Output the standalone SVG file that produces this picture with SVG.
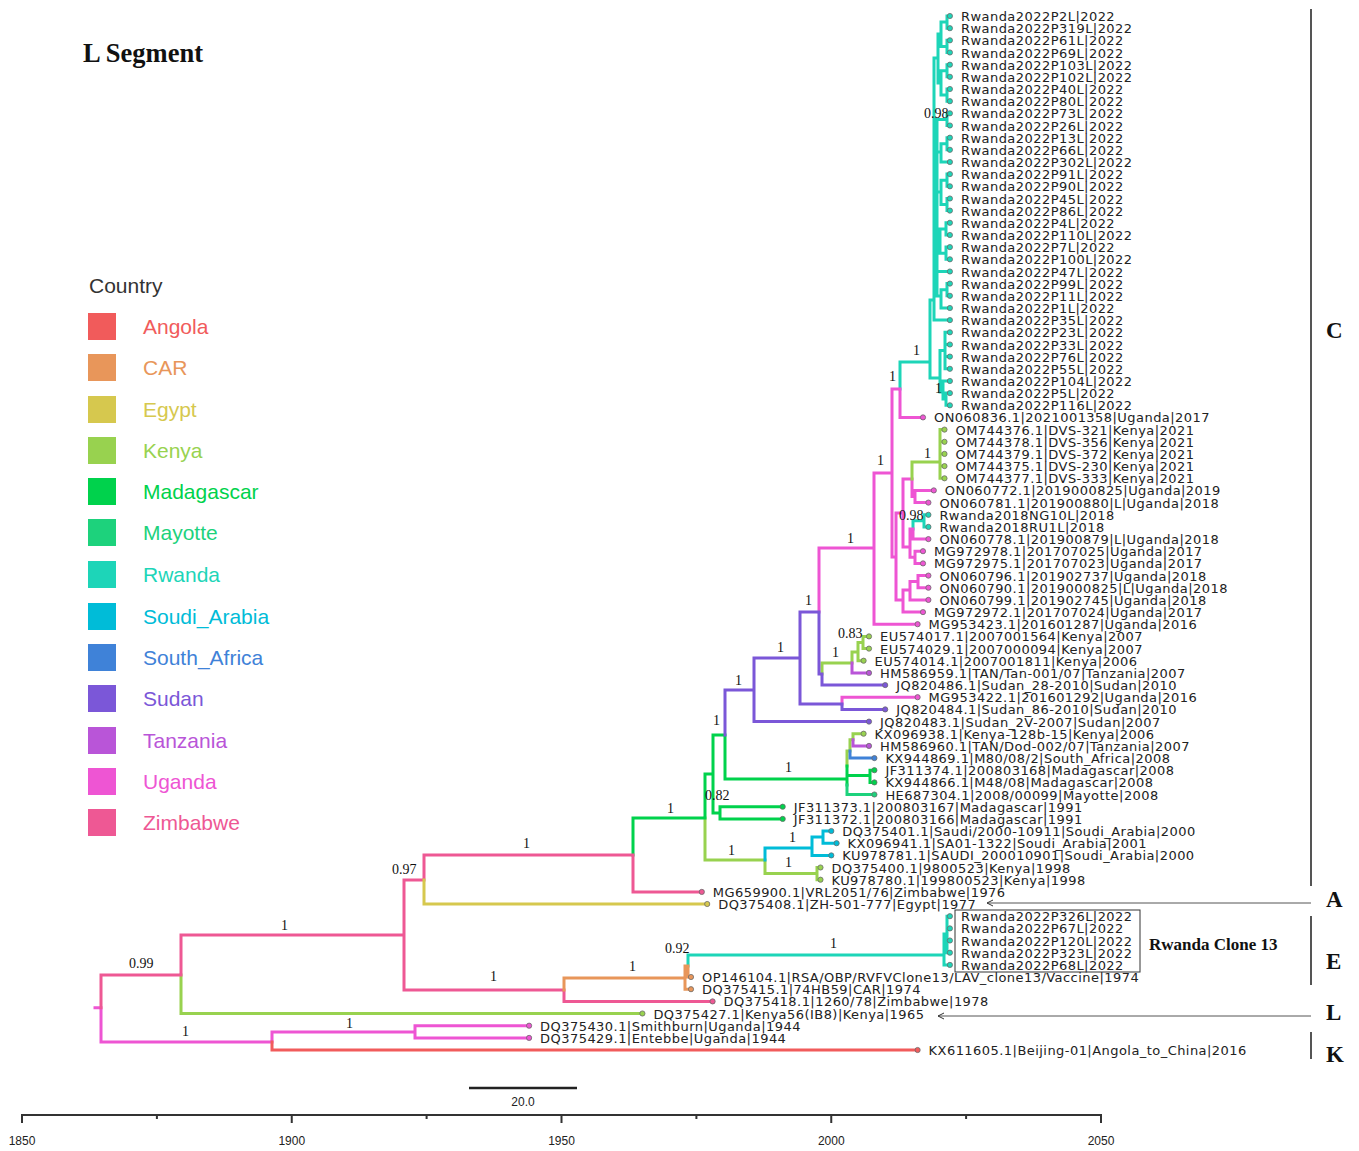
<svg xmlns="http://www.w3.org/2000/svg" width="1359" height="1151" viewBox="0 0 1359 1151">
<style>
.b{fill:none;stroke-width:3;stroke-linecap:square}
.an{stroke:#F15B5B}.car{stroke:#E8965A}.eg{stroke:#D6C84E}.ke{stroke:#98D24F}.md{stroke:#00D24C}.my{stroke:#1DD27C}.rw{stroke:#1DD5B8}.sa{stroke:#00BCD8}.zaf{stroke:#3F82D8}.sd{stroke:#7B57D8}.tz{stroke:#B955D8}.ug{stroke:#EE55D3}.zw{stroke:#EE5894}
.fan{fill:#F15B5B}.fcar{fill:#E8965A}.feg{fill:#D6C84E}.fke{fill:#98D24F}.fmd{fill:#00D24C}.fmy{fill:#1DD27C}.frw{fill:#1DD5B8}.fsa{fill:#00BCD8}.fzaf{fill:#3F82D8}.fsd{fill:#7B57D8}.ftz{fill:#B955D8}.fug{fill:#EE55D3}.fzw{fill:#EE5894}
circle{stroke:#6b6b6b;stroke-width:0.8}
.t{font-family:"DejaVu Sans",sans-serif;font-size:13px;letter-spacing:0.45px;fill:#222}
.s{font-family:"Liberation Serif",serif;font-size:14px;fill:#111}
.lg{font-family:"Liberation Sans",sans-serif;font-size:21px}
.cl{font-family:"Liberation Serif",serif;font-size:23px;font-weight:bold;fill:#111}
.ax{font-family:"Liberation Sans",sans-serif;font-size:12px;fill:#222}
.ln{stroke:#555;fill:none}
</style>
<defs>
<marker id="ah" markerWidth="8" markerHeight="8" refX="7" refY="4" orient="auto" markerUnits="userSpaceOnUse">
<path d="M1,1 L7,4 L1,7" fill="none" stroke="#333" stroke-width="1"/>
</marker>
</defs>
<rect width="1359" height="1151" fill="#fff"/>
<text x="83" y="62" font-family="Liberation Serif,serif" font-size="26.5" font-weight="bold" fill="#111">L Segment</text>

<g id="legend">
<text x="89" y="293" class="lg" fill="#333" font-size="20">Country</text>
<rect x="88" y="313" width="28" height="27" class="fan"/><text x="143" y="334" class="lg" fill="#F15B5B">Angola</text>
<rect x="88" y="354" width="28" height="27" class="fcar"/><text x="143" y="375" class="lg" fill="#E8965A">CAR</text>
<rect x="88" y="396" width="28" height="27" class="feg"/><text x="143" y="417" class="lg" fill="#D6C84E">Egypt</text>
<rect x="88" y="437" width="28" height="27" class="fke"/><text x="143" y="458" class="lg" fill="#98D24F">Kenya</text>
<rect x="88" y="478" width="28" height="27" class="fmd"/><text x="143" y="499" class="lg" fill="#00D24C">Madagascar</text>
<rect x="88" y="519" width="28" height="27" class="fmy"/><text x="143" y="540" class="lg" fill="#1DD27C">Mayotte</text>
<rect x="88" y="561" width="28" height="27" class="frw"/><text x="143" y="582" class="lg" fill="#1DD5B8">Rwanda</text>
<rect x="88" y="603" width="28" height="27" class="fsa"/><text x="143" y="624" class="lg" fill="#00BCD8">Soudi_Arabia</text>
<rect x="88" y="644" width="28" height="27" class="fzaf"/><text x="143" y="665" class="lg" fill="#3F82D8">South_Africa</text>
<rect x="88" y="685" width="28" height="27" class="fsd"/><text x="143" y="706" class="lg" fill="#7B57D8">Sudan</text>
<rect x="88" y="727" width="28" height="27" class="ftz"/><text x="143" y="748" class="lg" fill="#B955D8">Tanzania</text>
<rect x="88" y="768" width="28" height="27" class="fug"/><text x="143" y="789" class="lg" fill="#EE55D3">Uganda</text>
<rect x="88" y="809" width="28" height="27" class="fzw"/><text x="143" y="830" class="lg" fill="#EE5894">Zimbabwe</text>
</g>

<g id="connectors">
<path class="b rw" d="M900 362V389M900 362H930M930 300V378M930 300H934M934 58V320.1M934 320.1H949.9
M934 58H938M938 34V83M938 34H941M941 22.1V46.4M941 22.1H947M947 16V28.2M947 16H949.9M947 28.2H949.9M941 46.4H947M947 40.3V52.5M947 40.3H949.9M947 52.5H949.9
M938 83H941M941 70.8V95.1M941 70.8H947M947 64.7V76.8M947 64.7H949.9M947 76.8H949.9M941 95.1H947M947 89V101.2M947 89H949.9M947 101.2H949.9
M934 200H937M937 119.4V296M937 119.4H947M947 113.3V125.5M947 113.3H949.9M947 125.5H949.9
M937 152H941M941 143.8V162M941 143.8H947M947 137.7V149.8M947 137.7H949.9M947 149.8H949.9M941 162H949.9
M937 192H941M941 180.2V204.6M941 180.2H947M947 174.1V186.3M947 174.1H949.9M947 186.3H949.9M941 204.6H947M947 198.5V210.6M947 198.5H949.9M947 210.6H949.9
M937 241H940M940 228.9V253.2M940 228.9H946M946 222.8V235M946 222.8H949.9M946 235H949.9M940 253.2H946M946 247.1V259.3M946 247.1H949.9M946 259.3H949.9
M937 271.5H949.9M937 296H941M941 289.7V308M941 289.7H947M947 283.6V295.8M947 283.6H949.9M947 295.8H949.9M941 308H949.9
M930 378H940M940 350.5V392M940 350.5H945M945 332.3V368.8M945 332.3H949.9M945 344.5H949.9M945 356.6H949.9M945 368.8H949.9
M940 392H943M943 381V399M943 381H949.9M943 399H946M946 393.1V405.3M946 393.1H949.9M946 405.3H949.9
M913 520.8V529M913 520.8H924M924 514.8V526.9M924 514.8H928.4M924 526.9H928.4
M688 955V966M688 955H944M944 934V964.9M944 934H947M947 916.2V952.7M947 916.2H949.9M947 928.4H949.9M947 940.5H949.9M947 952.7H949.9M944 964.9H949.9"/>
<path class="b ug" d="M95 1007.7H101M101 1007.7V1042M101 1042H272M272 1032V1042M272 1032H415M415 1025.7V1037.9M415 1025.7H529.1M415 1037.9H529.1
M819 548V612M819 548H874M874 473V624.2M874 624.2H917.6M874 473H892M892 389V557M892 389H900M900 389V417.4M900 417.4H923
M892 557H896M896 513V600M896 513H903M903 479V547M903 479H912M912 479V496.5M912 496.5H915M915 490.4V502.6M915 490.4H933.8M915 502.6H928.4
M903 547H910M910 529V557.3M910 529H913M913 529V539.1M913 539.1H928.4M910 557.3H915M915 551.2V563.4M915 551.2H923M915 563.4H923
M896 600H903M903 590V612.1M903 590H910M910 581.6V599.9M910 581.6H918M918 575.6V587.7M918 575.6H928.4M918 587.7H928.4M910 599.9H928.4M903 612.1H923
M842 697.2V704M842 697.2H917.6"/>
<path class="b ke" d="M181 975V1013.5M181 1013.5H642.4M705 818V860M705 860H765M765 860V873.6M765 873.6H817M817 867.5V879.7M817 867.5H820.5M817 879.7H820.5
M912 462V479M912 462H940M940 429.6V478.3M940 429.6H944.5M940 441.8H944.5M940 453.9H944.5M940 466.1H944.5M940 478.3H944.5
M822 663V674M822 663H852M852 652V663M852 652H858M858 642.5V660.7M858 642.5H863M863 636.4V648.6M863 636.4H869M863 648.6H869M858 660.7H863.6
M847 751V766M847 751H850M850 739.8V751M850 739.8H853M853 733.7V739.8M853 733.7H863.6"/>
<path class="b tz" d="M852 663V672.9M852 672.9H869M853 739.8V745.9M853 745.9H869"/>
<path class="b zaf" d="M850 751V758.1M850 758.1H874.4"/>
<path class="b md" d="M633 818V855M633 818H705M705 774V818M705 774H713M713 735V813M713 735H725M713 813H720M720 806.7V818.9M720 806.7H782.7M720 818.9H782.7
M725 735V779M725 779H847M847 766V785M847 775.5H870M870 770.2V782.4M870 770.2H874.4M870 782.4H874.4"/>
<path class="b my" d="M847 785V794.5M847 794.5H874.4"/>
<path class="b sd" d="M725 690V735M725 690H754M754 658V721.6M754 658H800M754 721.6H869M800 612V704M800 612H819M800 704H842M819 612V674M819 674H822M822 674V685.1M822 685.1H885.2M842 704V709.4M842 709.4H885.2"/>
<path class="b sa" d="M765 848V860M765 848H812M812 837V855.4M812 837H823M823 831V843.2M823 831H831.3M823 843.2H836.6M812 855.4H831.3"/>
<path class="b zw" d="M101 975V1007.7M101 975H181M181 935V975M181 935H404M404 880V990M404 880H424M404 990H564M424 855V880M424 855H633M633 855V891.9M633 891.9H701.8M564 990V1001.4M564 1001.4H712.6"/>
<path class="b eg" d="M424 880V904M424 904H707.2"/>
<path class="b car" d="M564 978V990M564 978H685M685 966V989.2M685 966H688M685 989.2H691M688 966V977M688 977H691"/>
<path class="b an" d="M272 1042V1050M272 1050H917.6"/>
</g>

<g id="support">
<text class="s" x="924" y="118">0.98</text>
<text class="s" x="913" y="355">1</text>
<text class="s" x="935" y="393">1</text>
<text class="s" x="889" y="381">1</text>
<text class="s" x="924" y="458">1</text>
<text class="s" x="899" y="520">0.98</text>
<text class="s" x="877" y="465">1</text>
<text class="s" x="847" y="543">1</text>
<text class="s" x="805" y="605">1</text>
<text class="s" x="838" y="638">0.83</text>
<text class="s" x="832" y="657">1</text>
<text class="s" x="777" y="652">1</text>
<text class="s" x="735" y="685">1</text>
<text class="s" x="713" y="725">1</text>
<text class="s" x="785" y="772">1</text>
<text class="s" x="705" y="800">0.82</text>
<text class="s" x="667" y="813">1</text>
<text class="s" x="789" y="842">1</text>
<text class="s" x="728" y="855">1</text>
<text class="s" x="785" y="867">1</text>
<text class="s" x="523" y="848">1</text>
<text class="s" x="392" y="874">0.97</text>
<text class="s" x="281" y="930">1</text>
<text class="s" x="665" y="953">0.92</text>
<text class="s" x="830" y="948">1</text>
<text class="s" x="629" y="971">1</text>
<text class="s" x="490" y="981">1</text>
<text class="s" x="129" y="968">0.99</text>
<text class="s" x="346" y="1028">1</text>
<text class="s" x="182" y="1036">1</text>
</g>

<g id="tips">
<g id="tip1"><circle cx="949.9" cy="16" r="2.6" class="frw"/><text class="t" x="961" y="21">Rwanda2022P2L|2022</text></g>
<g id="tip2"><circle cx="949.9" cy="28.2" r="2.6" class="frw"/><text class="t" x="961" y="33.2">Rwanda2022P319L|2022</text></g>
<g id="tip3"><circle cx="949.9" cy="40.3" r="2.6" class="frw"/><text class="t" x="961" y="45.3">Rwanda2022P61L|2022</text></g>
<g id="tip4"><circle cx="949.9" cy="52.5" r="2.6" class="frw"/><text class="t" x="961" y="57.5">Rwanda2022P69L|2022</text></g>
<g id="tip5"><circle cx="949.9" cy="64.7" r="2.6" class="frw"/><text class="t" x="961" y="69.7">Rwanda2022P103L|2022</text></g>
<g id="tip6"><circle cx="949.9" cy="76.8" r="2.6" class="frw"/><text class="t" x="961" y="81.8">Rwanda2022P102L|2022</text></g>
<g id="tip7"><circle cx="949.9" cy="89" r="2.6" class="frw"/><text class="t" x="961" y="94">Rwanda2022P40L|2022</text></g>
<g id="tip8"><circle cx="949.9" cy="101.2" r="2.6" class="frw"/><text class="t" x="961" y="106.2">Rwanda2022P80L|2022</text></g>
<g id="tip9"><circle cx="949.9" cy="113.3" r="2.6" class="frw"/><text class="t" x="961" y="118.3">Rwanda2022P73L|2022</text></g>
<g id="tip10"><circle cx="949.9" cy="125.5" r="2.6" class="frw"/><text class="t" x="961" y="130.5">Rwanda2022P26L|2022</text></g>
<g id="tip11"><circle cx="949.9" cy="137.7" r="2.6" class="frw"/><text class="t" x="961" y="142.7">Rwanda2022P13L|2022</text></g>
<g id="tip12"><circle cx="949.9" cy="149.8" r="2.6" class="frw"/><text class="t" x="961" y="154.8">Rwanda2022P66L|2022</text></g>
<g id="tip13"><circle cx="949.9" cy="162" r="2.6" class="frw"/><text class="t" x="961" y="167">Rwanda2022P302L|2022</text></g>
<g id="tip14"><circle cx="949.9" cy="174.1" r="2.6" class="frw"/><text class="t" x="961" y="179.1">Rwanda2022P91L|2022</text></g>
<g id="tip15"><circle cx="949.9" cy="186.3" r="2.6" class="frw"/><text class="t" x="961" y="191.3">Rwanda2022P90L|2022</text></g>
<g id="tip16"><circle cx="949.9" cy="198.5" r="2.6" class="frw"/><text class="t" x="961" y="203.5">Rwanda2022P45L|2022</text></g>
<g id="tip17"><circle cx="949.9" cy="210.6" r="2.6" class="frw"/><text class="t" x="961" y="215.6">Rwanda2022P86L|2022</text></g>
<g id="tip18"><circle cx="949.9" cy="222.8" r="2.6" class="frw"/><text class="t" x="961" y="227.8">Rwanda2022P4L|2022</text></g>
<g id="tip19"><circle cx="949.9" cy="235" r="2.6" class="frw"/><text class="t" x="961" y="240">Rwanda2022P110L|2022</text></g>
<g id="tip20"><circle cx="949.9" cy="247.1" r="2.6" class="frw"/><text class="t" x="961" y="252.1">Rwanda2022P7L|2022</text></g>
<g id="tip21"><circle cx="949.9" cy="259.3" r="2.6" class="frw"/><text class="t" x="961" y="264.3">Rwanda2022P100L|2022</text></g>
<g id="tip22"><circle cx="949.9" cy="271.5" r="2.6" class="frw"/><text class="t" x="961" y="276.5">Rwanda2022P47L|2022</text></g>
<g id="tip23"><circle cx="949.9" cy="283.6" r="2.6" class="frw"/><text class="t" x="961" y="288.6">Rwanda2022P99L|2022</text></g>
<g id="tip24"><circle cx="949.9" cy="295.8" r="2.6" class="frw"/><text class="t" x="961" y="300.8">Rwanda2022P11L|2022</text></g>
<g id="tip25"><circle cx="949.9" cy="308" r="2.6" class="frw"/><text class="t" x="961" y="313">Rwanda2022P1L|2022</text></g>
<g id="tip26"><circle cx="949.9" cy="320.1" r="2.6" class="frw"/><text class="t" x="961" y="325.1">Rwanda2022P35L|2022</text></g>
<g id="tip27"><circle cx="949.9" cy="332.3" r="2.6" class="frw"/><text class="t" x="961" y="337.3">Rwanda2022P23L|2022</text></g>
<g id="tip28"><circle cx="949.9" cy="344.5" r="2.6" class="frw"/><text class="t" x="961" y="349.5">Rwanda2022P33L|2022</text></g>
<g id="tip29"><circle cx="949.9" cy="356.6" r="2.6" class="frw"/><text class="t" x="961" y="361.6">Rwanda2022P76L|2022</text></g>
<g id="tip30"><circle cx="949.9" cy="368.8" r="2.6" class="frw"/><text class="t" x="961" y="373.8">Rwanda2022P55L|2022</text></g>
<g id="tip31"><circle cx="949.9" cy="381" r="2.6" class="frw"/><text class="t" x="961" y="386">Rwanda2022P104L|2022</text></g>
<g id="tip32"><circle cx="949.9" cy="393.1" r="2.6" class="frw"/><text class="t" x="961" y="398.1">Rwanda2022P5L|2022</text></g>
<g id="tip33"><circle cx="949.9" cy="405.3" r="2.6" class="frw"/><text class="t" x="961" y="410.3">Rwanda2022P116L|2022</text></g>
<g id="tip34"><circle cx="923" cy="417.4" r="2.6" class="fug"/><text class="t" x="934" y="422.4">ON060836.1|2021001358|Uganda|2017</text></g>
<g id="tip35"><circle cx="944.5" cy="429.6" r="2.6" class="fke"/><text class="t" x="955.5" y="434.6">OM744376.1|DVS-321|Kenya|2021</text></g>
<g id="tip36"><circle cx="944.5" cy="441.8" r="2.6" class="fke"/><text class="t" x="955.5" y="446.8">OM744378.1|DVS-356|Kenya|2021</text></g>
<g id="tip37"><circle cx="944.5" cy="453.9" r="2.6" class="fke"/><text class="t" x="955.5" y="458.9">OM744379.1|DVS-372|Kenya|2021</text></g>
<g id="tip38"><circle cx="944.5" cy="466.1" r="2.6" class="fke"/><text class="t" x="955.5" y="471.1">OM744375.1|DVS-230|Kenya|2021</text></g>
<g id="tip39"><circle cx="944.5" cy="478.3" r="2.6" class="fke"/><text class="t" x="955.5" y="483.3">OM744377.1|DVS-333|Kenya|2021</text></g>
<g id="tip40"><circle cx="933.8" cy="490.4" r="2.6" class="fug"/><text class="t" x="944.8" y="495.4">ON060772.1|2019000825|Uganda|2019</text></g>
<g id="tip41"><circle cx="928.4" cy="502.6" r="2.6" class="fug"/><text class="t" x="939.4" y="507.6">ON060781.1|201900880|L|Uganda|2018</text></g>
<g id="tip42"><circle cx="928.4" cy="514.8" r="2.6" class="frw"/><text class="t" x="939.4" y="519.8">Rwanda2018NG10L|2018</text></g>
<g id="tip43"><circle cx="928.4" cy="526.9" r="2.6" class="frw"/><text class="t" x="939.4" y="531.9">Rwanda2018RU1L|2018</text></g>
<g id="tip44"><circle cx="928.4" cy="539.1" r="2.6" class="fug"/><text class="t" x="939.4" y="544.1">ON060778.1|201900879|L|Uganda|2018</text></g>
<g id="tip45"><circle cx="923" cy="551.2" r="2.6" class="fug"/><text class="t" x="934" y="556.2">MG972978.1|201707025|Uganda|2017</text></g>
<g id="tip46"><circle cx="923" cy="563.4" r="2.6" class="fug"/><text class="t" x="934" y="568.4">MG972975.1|201707023|Uganda|2017</text></g>
<g id="tip47"><circle cx="928.4" cy="575.6" r="2.6" class="fug"/><text class="t" x="939.4" y="580.6">ON060796.1|201902737|Uganda|2018</text></g>
<g id="tip48"><circle cx="928.4" cy="587.7" r="2.6" class="fug"/><text class="t" x="939.4" y="592.7">ON060790.1|2019000825|L|Uganda|2018</text></g>
<g id="tip49"><circle cx="928.4" cy="599.9" r="2.6" class="fug"/><text class="t" x="939.4" y="604.9">ON060799.1|201902745|Uganda|2018</text></g>
<g id="tip50"><circle cx="923" cy="612.1" r="2.6" class="fug"/><text class="t" x="934" y="617.1">MG972972.1|201707024|Uganda|2017</text></g>
<g id="tip51"><circle cx="917.6" cy="624.2" r="2.6" class="fug"/><text class="t" x="928.6" y="629.2">MG953423.1|201601287|Uganda|2016</text></g>
<g id="tip52"><circle cx="869" cy="636.4" r="2.6" class="fke"/><text class="t" x="880" y="641.4">EU574017.1|2007001564|Kenya|2007</text></g>
<g id="tip53"><circle cx="869" cy="648.6" r="2.6" class="fke"/><text class="t" x="880" y="653.6">EU574029.1|2007000094|Kenya|2007</text></g>
<g id="tip54"><circle cx="863.6" cy="660.7" r="2.6" class="fke"/><text class="t" x="874.6" y="665.7">EU574014.1|2007001811|Kenya|2006</text></g>
<g id="tip55"><circle cx="869" cy="672.9" r="2.6" class="ftz"/><text class="t" x="880" y="677.9">HM586959.1|TAN/Tan-001/07|Tanzania|2007</text></g>
<g id="tip56"><circle cx="885.2" cy="685.1" r="2.6" class="fsd"/><text class="t" x="896.2" y="690.1">JQ820486.1|Sudan_28-2010|Sudan|2010</text></g>
<g id="tip57"><circle cx="917.6" cy="697.2" r="2.6" class="fug"/><text class="t" x="928.6" y="702.2">MG953422.1|201601292|Uganda|2016</text></g>
<g id="tip58"><circle cx="885.2" cy="709.4" r="2.6" class="fsd"/><text class="t" x="896.2" y="714.4">JQ820484.1|Sudan_86-2010|Sudan|2010</text></g>
<g id="tip59"><circle cx="869" cy="721.6" r="2.6" class="fsd"/><text class="t" x="880" y="726.6">JQ820483.1|Sudan_2V-2007|Sudan|2007</text></g>
<g id="tip60"><circle cx="863.6" cy="733.7" r="2.6" class="fke"/><text class="t" x="874.6" y="738.7">KX096938.1|Kenya-128b-15|Kenya|2006</text></g>
<g id="tip61"><circle cx="869" cy="745.9" r="2.6" class="ftz"/><text class="t" x="880" y="750.9">HM586960.1|TAN/Dod-002/07|Tanzania|2007</text></g>
<g id="tip62"><circle cx="874.4" cy="758.1" r="2.6" class="fzaf"/><text class="t" x="885.4" y="763.1">KX944869.1|M80/08/2|South_Africa|2008</text></g>
<g id="tip63"><circle cx="874.4" cy="770.2" r="2.6" class="fmd"/><text class="t" x="885.4" y="775.2">JF311374.1|200803168|Madagascar|2008</text></g>
<g id="tip64"><circle cx="874.4" cy="782.4" r="2.6" class="fmd"/><text class="t" x="885.4" y="787.4">KX944866.1|M48/08|Madagascar|2008</text></g>
<g id="tip65"><circle cx="874.4" cy="794.5" r="2.6" class="fmy"/><text class="t" x="885.4" y="799.5">HE687304.1|2008/00099|Mayotte|2008</text></g>
<g id="tip66"><circle cx="782.7" cy="806.7" r="2.6" class="fmd"/><text class="t" x="793.7" y="811.7">JF311373.1|200803167|Madagascar|1991</text></g>
<g id="tip67"><circle cx="782.7" cy="818.9" r="2.6" class="fmd"/><text class="t" x="793.7" y="823.9">JF311372.1|200803166|Madagascar|1991</text></g>
<g id="tip68"><circle cx="831.3" cy="831" r="2.6" class="fsa"/><text class="t" x="842.3" y="836">DQ375401.1|Saudi/2000-10911|Soudi_Arabia|2000</text></g>
<g id="tip69"><circle cx="836.6" cy="843.2" r="2.6" class="fsa"/><text class="t" x="847.6" y="848.2">KX096941.1|SA01-1322|Soudi_Arabia|2001</text></g>
<g id="tip70"><circle cx="831.3" cy="855.4" r="2.6" class="fsa"/><text class="t" x="842.3" y="860.4">KU978781.1|SAUDI_200010901|Soudi_Arabia|2000</text></g>
<g id="tip71"><circle cx="820.5" cy="867.5" r="2.6" class="fke"/><text class="t" x="831.5" y="872.5">DQ375400.1|9800523|Kenya|1998</text></g>
<g id="tip72"><circle cx="820.5" cy="879.7" r="2.6" class="fke"/><text class="t" x="831.5" y="884.7">KU978780.1|199800523|Kenya|1998</text></g>
<g id="tip73"><circle cx="701.8" cy="891.9" r="2.6" class="fzw"/><text class="t" x="712.8" y="896.9">MG659900.1|VRL2051/76|Zimbabwe|1976</text></g>
<g id="tip74"><circle cx="707.2" cy="904" r="2.6" class="feg"/><text class="t" x="718.2" y="909">DQ375408.1|ZH-501-777|Egypt|1977</text></g>
<g id="tip75"><circle cx="949.9" cy="916.2" r="2.6" class="frw"/><text class="t" x="961" y="921.2">Rwanda2022P326L|2022</text></g>
<g id="tip76"><circle cx="949.9" cy="928.4" r="2.6" class="frw"/><text class="t" x="961" y="933.4">Rwanda2022P67L|2022</text></g>
<g id="tip77"><circle cx="949.9" cy="940.5" r="2.6" class="frw"/><text class="t" x="961" y="945.5">Rwanda2022P120L|2022</text></g>
<g id="tip78"><circle cx="949.9" cy="952.7" r="2.6" class="frw"/><text class="t" x="961" y="957.7">Rwanda2022P323L|2022</text></g>
<g id="tip79"><circle cx="949.9" cy="964.9" r="2.6" class="frw"/><text class="t" x="961" y="969.9">Rwanda2022P68L|2022</text></g>
<g id="tip80"><circle cx="691" cy="977" r="2.6" class="fcar"/><text class="t" x="702" y="982">OP146104.1|RSA/OBP/RVFVClone13/LAV_clone13/Vaccine|1974</text></g>
<g id="tip81"><circle cx="691" cy="989.2" r="2.6" class="fcar"/><text class="t" x="702" y="994.2">DQ375415.1|74HB59|CAR|1974</text></g>
<g id="tip82"><circle cx="712.6" cy="1001.4" r="2.6" class="fzw"/><text class="t" x="723.6" y="1006.4">DQ375418.1|1260/78|Zimbabwe|1978</text></g>
<g id="tip83"><circle cx="642.4" cy="1013.5" r="2.6" class="fke"/><text class="t" x="653.4" y="1018.5">DQ375427.1|Kenya56(IB8)|Kenya|1965</text></g>
<g id="tip84"><circle cx="529.1" cy="1025.7" r="2.6" class="fug"/><text class="t" x="540.1" y="1030.7">DQ375430.1|Smithburn|Uganda|1944</text></g>
<g id="tip85"><circle cx="529.1" cy="1037.9" r="2.6" class="fug"/><text class="t" x="540.1" y="1042.9">DQ375429.1|Entebbe|Uganda|1944</text></g>
<g id="tip86"><circle cx="917.6" cy="1050" r="2.6" class="fan"/><text class="t" x="928.6" y="1055">KX611605.1|Beijing-01|Angola_to_China|2016</text></g>
</g>

<g id="clades">
<rect x="955" y="910" width="185" height="62" fill="none" stroke="#333" stroke-width="1"/>
<text x="1149" y="950" font-family="Liberation Serif,serif" font-size="17" font-weight="bold" fill="#111">Rwanda Clone 13</text>
<path class="ln" stroke-width="2" d="M1311 9V886M1311 916V985M1311 1032V1059"/>
<path class="ln" stroke-width="1" d="M1311 903H987" marker-end="url(#ah)"/>
<path class="ln" stroke-width="1" d="M1311 1016H938" marker-end="url(#ah)"/>
<text class="cl" x="1326" y="338">C</text>
<text class="cl" x="1326" y="907">A</text>
<text class="cl" x="1326" y="969">E</text>
<text class="cl" x="1326" y="1020">L</text>
<text class="cl" x="1326" y="1062">K</text>
</g>

<g id="axis">
<path d="M469 1088H577" stroke="#222" stroke-width="2.5"/>
<text class="ax" x="523" y="1106" text-anchor="middle" font-size="11">20.0</text>
<path d="M22 1115H1101M22 1114V1123M291.75 1114V1123M561.5 1114V1123M831.25 1114V1123M1101 1114V1123M156.9 1114V1119M426.6 1114V1119M696.4 1114V1119M966.1 1114V1119" stroke="#333" stroke-width="2" fill="none"/>
<text class="ax" x="22" y="1145" text-anchor="middle">1850</text>
<text class="ax" x="291.75" y="1145" text-anchor="middle">1900</text>
<text class="ax" x="561.5" y="1145" text-anchor="middle">1950</text>
<text class="ax" x="831.25" y="1145" text-anchor="middle">2000</text>
<text class="ax" x="1101" y="1145" text-anchor="middle">2050</text>
</g>
</svg>
